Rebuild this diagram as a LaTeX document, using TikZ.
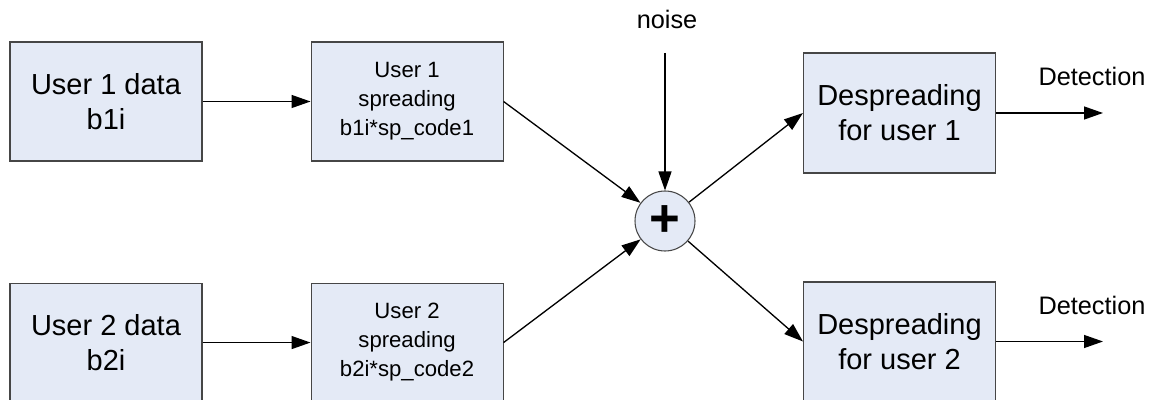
\documentclass[tikz,border=0pt]{standalone}
\usepackage{fontspec}
\setmainfont{Liberation Sans}
\usepackage{tikz}
\usetikzlibrary{arrows.meta, positioning}
\definecolor{boxfill}{RGB}{228,234,246}
\definecolor{boxline}{RGB}{70,70,70}
\tikzset{
  block/.style={rectangle, minimum width=3.84cm, minimum height=2.38cm,
    align=center, draw=boxline, fill=boxfill, line width=0.6pt, inner sep=2pt},
  bigblock/.style={block, font=\fontsize{16.5}{20}\selectfont},
  smallblock/.style={block, font=\fontsize{12.6}{16.5}\selectfont},
  adder/.style={circle, minimum size=1.2cm, inner sep=0pt, draw=boxline,
    fill=boxfill, line width=0.6pt},
  label/.style={font=\fontsize{14.4}{17}\selectfont, inner sep=1pt},
  arrow/.style={-{Triangle[length=0.38cm, width=0.26cm]}, line width=0.75pt},
}
\begin{document}
\begin{tikzpicture}
  \useasboundingbox (0,0) rectangle (23.08,-8);
  % transmitters
  \node[bigblock] (u1data) at (2.12,-2.03) {User 1 data\\b1i};
  \node[smallblock, right=2.16cm of u1data] (u1spread) {User 1\\spreading\\b1i*sp\_code1};
  \node[bigblock, below=2.42cm of u1data] (u2data) {User 2 data\\b2i};
  \node[smallblock, right=2.16cm of u2data] (u2spread) {User 2\\spreading\\b2i*sp\_code2};
  % channel
  \node[adder] (sum) at (13.3,-4.42) {\fontsize{30}{30}\selectfont\bfseries +};
  \node[label] (noise) at (13.34,-0.38) {noise};
  \coordinate (noisein) at (13.3,-1.06);
  % receivers
  \node[bigblock, minimum height=2.4cm] (desp1) at (17.99,-2.26) {Despreading\\for user 1};
  \node[bigblock] (desp2) at (17.99,-6.83) {Despreading\\for user 2};
  \coordinate (out1) at (22.06,-2.26);
  \coordinate (out2) at (22.06,-6.83);
  \node[label] (det1) at (21.84,-1.52) {Detection};
  \node[label] (det2) at (21.84,-6.10) {Detection};
  \draw[arrow] (u1data) -- (u1spread);
  \draw[arrow] (u2data) -- (u2spread);
  \draw[arrow] (u1spread.east) -- (sum);
  \draw[arrow] (u2spread.east) -- (sum);
  \draw[arrow] (noisein) -- (sum);
  \draw[arrow] (sum) -- (desp1.west);
  \draw[arrow] (sum) -- (desp2.west);
  \draw[arrow] (desp1.east) -- (out1);
  \draw[arrow] (desp2.east) -- (out2);
\end{tikzpicture}
\end{document}
